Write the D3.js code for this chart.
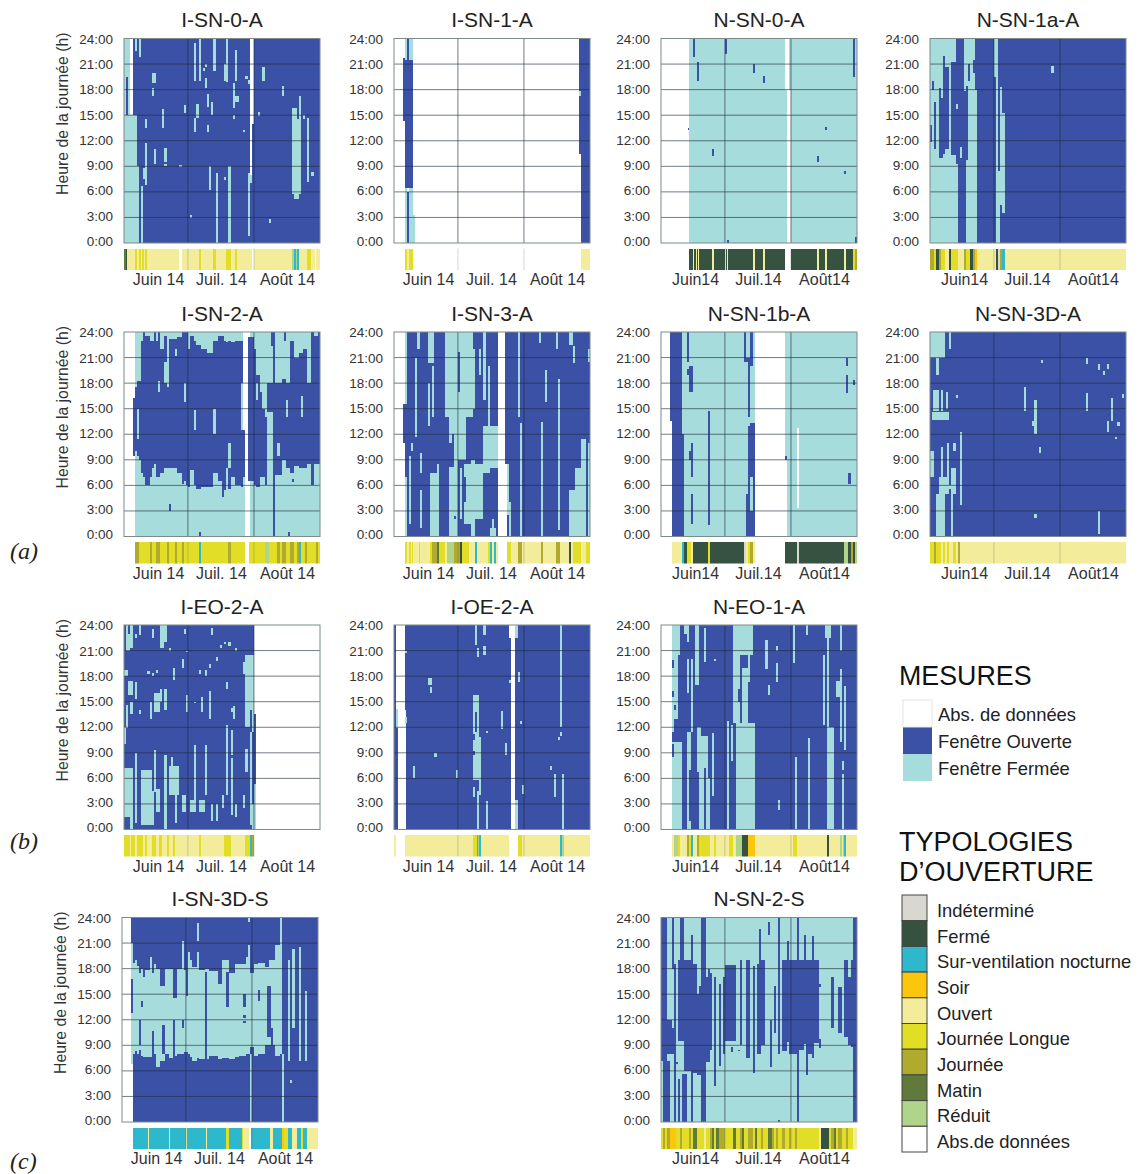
<!DOCTYPE html>
<html><head><meta charset="utf-8">
<script src="https://cdn.jsdelivr.net/npm/d3@7"></script>
<style>
html,body{margin:0;padding:0;background:#fff}
svg{display:block}
text{font-family:"Liberation Sans",Arial,sans-serif;fill:#222}
</style></head><body><div id="c"></div>
<script>
// measurement states
const A="abs",O="open",F="closed";
// typology states
const IND="ind",FER="fer",SUR="sur",SOI="soi",OUV="ouv",JLO="jlo",JOU="jou",MAT="mat",RED="red",ABS="abs";

const hourTicks=[0,3,6,9,12,15,18,21,24];
const hourLabels=["0:00","3:00","6:00","9:00","12:00","15:00","18:00","21:00","24:00"];
const monthDays=[16,45.5,76.5];
const monthLabelsI=["Juin 14","Juil. 14","Août 14"];
const monthLabelsN=["Juin14","Juil.14","Août14"];
const monthBreaks=[30,61];

// [day0, day1, hour0, hour1, state]
const marks_ISN0A=[[0,6,0,15,F],[6,7,0,9,F],[0,1,14,24,F],[1,2,19.5,24,F],[2,3,15,24,F],[3,4,15,24,A],[5,6,22.5,24,F],[7,8,21.8,24,F],[8,9,0,6.7,F],[10,11,6.8,11.7,F],[9,10,7.5,8.8,F],[10,11,13.5,14.5,F],[13,15,18.8,20,F],[13,14,17.3,18.2,F],[14,15,9.3,11,F],[18,19,13.5,15.7,F],[19,20,9.5,11.2,F],[19,20,9,9.3,F],[26,27,8.9,9.2,F],[28,29,15.2,16.2,F],[33,34,13,14.7,F],[33,34,19,23.5,F],[34,35,14.7,16.3,F],[35,36,19,24,F],[38,39,20.7,21,F],[37,38,20.2,20.5,F],[38,39,18.2,19.4,F],[39,40,16,17.5,F],[39,40,13,13.8,F],[41,42,15,16.5,F],[40,41,6.2,9,F],[42,43,20.2,24,F],[43,44,0,8.2,F],[47,48,7.4,7.8,F],[48,49,18.9,24,F],[49,50,0,9,F],[47,48,19,21,F],[51,52,15.8,18.8,F],[52,53,19,22.6,F],[52,54,16.5,17.2,F],[51,52,14.5,15,F],[56,57,13,13.3,F],[57,58,19.2,19.6,F],[58,59,18.7,19.1,F],[63,64,14.9,15.4,F],[65,66,19,20.7,F],[68,69,2.4,2.8,F],[74,75,17.3,18.4,F],[79,83,5.7,14.5,F],[80,82,5.2,5.7,F],[79,81,14.5,15.9,F],[82,83,14,17.3,F],[84,85,14.5,15,F],[86,87,7.2,14.7,F],[88,89,7.9,8.3,F],[31,32,2.9,3.3,F],[58,59,0.8,8.2,F],[59,60,7,24,A],[60,61,14,24,A],[59,60,7,8,F]];
const strip_ISN0A=[[0,92,OUV],[0,1,MAT],[1,1.5,FER],[5,6,JLO],[7,8,JLO],[8.6,9.2,JLO],[10,11,JLO],[26,27,ABS],[35,36,JLO],[42,43,JLO],[48,50,JLO],[52,53,JLO],[60,61,ABS],[79,80,RED],[80,82,SUR],[80.5,81,RED],[86,88,JLO],[89.5,90,ABS]];

const marks_ISN1A=[[4,5,14.3,21.7,O],[5,9,6.5,21.5,O],[5,6,21.5,24,F],[6,7,21.5,24,O],[7,9,21.5,24,F],[5,6,0,6.5,F],[6,7,0,6,O],[7,9,0,6.5,F],[9,10,0,3.3,F],[87,88,10.5,24,O],[88,92,0,24,O],[87,88,17.2,17.8,F]];
const strip_ISN1A=[[5,6,JLO],[6,7,OUV],[7,9,JLO],[88,92,OUV]];

const marks_NSN0A=[[0,13,0,24,A],[58,60,18,24,A],[59,61,0,18,A],[15,16,21.8,24,O],[17,18,19,21.2,O],[12.5,13,13.3,13.5,O],[24,25,10.2,11,O],[30,31,22.2,24,O],[31,32,0,0.3,O],[43,44,20,21,O],[48,49,18.8,19.6,O],[73,74,9.5,10.2,O],[77,78,13.3,13.6,O],[86,87,8.1,8.4,O],[90,91,19.5,24,O],[91,92,0,0.7,O]];
const strip_NSN0A=[[13,58,FER],[61,92,FER],[15,15.5,OUV],[16.5,17,OUV],[17.5,18,OUV],[24,25,OUV],[30,30.6,OUV],[31,31.6,OUV],[43,44,OUV],[48,49,OUV],[73,74,OUV],[77,78,OUV],[86,87,OUV],[90,91,JLO],[91,92,JOU]];

const marks_NSN1aA=[[0,13,0,9.3,F],[0,1,13.8,24,F],[0,1,9.3,11.8,F],[1,2,9.3,18,F],[1,2,19,24,F],[2,3,9.3,11,F],[2,3,16.5,24,F],[3,4,9.3,24,F],[4,6,9.3,10,F],[4,6,18.2,24,F],[5,6,17,18.2,F],[6,7,9.3,10.5,F],[6,7,22,24,F],[7,9,9.3,11,F],[7,9,20.7,24,F],[9,10,9.3,24,F],[10,12,9.3,10.3,F],[10,12,21.3,24,F],[11,12,9.3,9.5,F],[12,13,15.7,16.3,F],[14,15,10,11.3,F],[17,22,0,9.7,F],[16,17,17.8,24,F],[17,18,18.4,24,F],[18,19,9.7,19,F],[18,19,21,24,F],[19,21,9.7,24,F],[20,21,20,21.5,O],[21,22,9.7,18,F],[30,32,19.5,24,F],[31,32,8.5,19.5,F],[31,33,0,8.5,F],[33,34,4.5,18.3,F],[34,35,3.5,15.2,F],[57,58,19.9,20.8,F]];
const strip_NSN1aA=[[0,92,OUV],[0,2,JOU],[2,3,JLO],[3,4,FER],[4,5,JOU],[5,7,JLO],[9,10,FER],[10,13,JLO],[16,17,JOU],[17,19,JLO],[19,20,FER],[20,21,JOU],[21,22,SOI],[31,32,FER],[32,33,IND],[33,34,JOU],[34,35,SUR],[35,37,OUV]];

const marks_ISN2A=[[0,4,0,24,A],[4,5,0,9.5,A],[4,5,16.3,24,A],[4,5,9.5,16.3,O],[5,6,10,17.5,O],[6,7,15,18.2,O],[6,7,9.5,11.5,O],[7,8,9,18.2,O],[8,9,7.5,23,O],[9,10,7,24,O],[10,12,6,23.5,O],[12,13,7,23,O],[13,14,8,23,O],[14,15,8.5,24,O],[15,16,7,23,O],[16,17,7,17,O],[16,17,18.2,24,O],[17,19,7.5,22,O],[19,20,8,18,O],[19,20,20.5,23.5,O],[20,21,8,17.5,O],[21,25,8,23.2,O],[24,25,21.2,22,F],[25,27,7.5,23.4,O],[27,28,6.2,24,O],[28,29,6.5,15.8,O],[28,29,18,24,O],[29,30,6,24,O],[30,31,5.8,22,O],[31,33,7.8,23.5,O],[33,34,6,23,O],[33,34,12.5,14.8,F],[34,36,5.6,22.5,O],[36,39,5.8,22,O],[39,42,5.8,21.5,O],[42,44,7.5,23,O],[42,43,12,15,F],[44,46,6.5,23.5,O],[46,47,4.6,23.5,O],[47,48,5.5,23,O],[48,49,8,22.8,O],[49,50,11,23,O],[49,50,5.6,8,O],[50,52,7,22.8,O],[52,53,6,23,O],[53,55,6,23,O],[55,56,5.8,12.5,O],[55,56,18,23,O],[56,57,7,12.5,O],[56,57,12.5,24,A],[57,59,0,24,A],[58,61,6.5,23.4,O],[61,62,6,22,O],[62,64,5.8,19,O],[62,63,16,18,F],[65,66,7,15,O],[64,65,7,17,O],[66,67,6,14,O],[67,70,14.6,18,O],[69,70,22.3,24,O],[70,71,0,24,O],[71,74,7.2,18,O],[74,76,9,18.5,O],[72,73,9.5,11,F],[75,76,23,24,O],[76,78,8,18,O],[76,77,14,16,F],[78,80,7.5,23,O],[80,82,8.3,21,O],[82,84,8,21.5,O],[83,84,14,16.5,F],[84,86,8,22,O],[86,88,8.5,18,O],[88,89,6,24,O],[89,91,8.5,23.5,O],[91,92,8.5,24,O],[21,22,3,3.8,O],[35,36,0.1,0.5,O],[77,78,0,0.5,O],[79,80,6.4,6.8,O]];
const strip_ISN2A=[[5,92,JLO],[0,5,ABS],[5,7,JOU],[12,13,JOU],[15,17,JOU],[20,21,JOU],[24,25,JOU],[27,28,JOU],[35,36,SUR],[49,50,JOU],[57,58.5,ABS],[66,68,RED],[72,73,JOU],[74,76,JOU],[78,80,JOU],[81,82,JOU],[82,83,SUR],[85,86,JOU],[90,91,JOU]];

const marks_ISN3A=[[0,5,0,24,A],[4,5,11,15.5,O],[5,6,15.5,24,F],[5,6,0,7,F],[7,8,1.5,9.5,F],[8,9,10,11,F],[10,11,11.7,21,F],[11,12,22,24,F],[12,13,1,5.5,F],[12,13,7.5,9.8,F],[16,17,13,18,F],[17,21,0,7.5,F],[16,19,20.4,24,F],[18,19,14,20,F],[20,21,7,8.5,F],[24,26,14,24,F],[26,28,11,24,F],[28,29,8,24,F],[26,29,0,8.2,F],[29,30,0,24,F],[30,31,21.6,24,F],[30,31,9,17,F],[31,34,9,24,F],[34,37,14,24,F],[37,38,15,22,F],[36,37,0,9,F],[31,32,2,8,F],[33,36,1.5,8.5,F],[37,38,0,9,F],[38,42,2,8.5,F],[42,45,7.5,13,F],[45,49,8,13,F],[44,45,13,20,F],[42,43,16,24,F],[40,41,19,22,F],[28,29,2,2.4,O],[27,28,10,12,O],[33,34,4,7,O],[30,31,0,1.5,O],[45,48,0,1,F],[46,47,1,2,F],[49,52,0,24,A],[52,53,0,8.5,A],[53,54,2.5,8.5,F],[54,55,0,4,F],[58,59,14,24,F],[59,60,0,13.3,F],[68,69,22.7,24,F],[69,70,0,13.4,F],[71,72,15.8,19.5,F],[76,77,22,24,F],[77,78,0.8,18.5,F],[82,84,22.5,24,F],[82,88,0,5.5,F],[85,88,5.5,8,F],[84,85,20.4,22.3,F],[88,90,0,11.5,F],[91,92,0,11,F],[91,92,20.5,22,F]];
const strip_ISN3A=[[5,49,OUV],[53,92,OUV],[5,6,JLO],[7,8,JLO],[8.5,9,JLO],[11.5,12,JLO],[17,18,JLO],[18,20,JOU],[20,21,MAT],[21,24,JLO],[25,28,RED],[28,31,JOU],[31,32,FER],[32,35,JLO],[38,39,SUR],[44,45,JLO],[45,46,SUR],[47,48,SUR],[53,55,JLO],[58,60,JOU],[69,70,JOU],[76,78,JOU],[82,83,FER],[84,88,JLO],[90,92,JLO]];

const marks_NSN1bA=[[0,5,0,24,A],[4,5,13.5,24,O],[5,10,0,24,O],[10,11,0,12,O],[12,13,20.5,24,O],[12,14,19,19.6,O],[13,15,17,20,O],[14,15,13,17,F],[14,15,7,11,O],[13,14,9,10,O],[14,15,1.5,5,O],[22,23,1.3,14.7,O],[39,40,20.5,24,O],[40,41,20.5,21,O],[40,41,0,5,O],[41,42,0,21,O],[42,43,0,13.3,O],[43,44,0,13.3,O],[42,43,20,24,O],[41,42,13,14,F],[42,43,3,7,F],[44,58,0,24,A],[58,59,0,9,A],[58,59,9,9.5,O],[64,65,3.3,12.7,A],[87,88,20,21,O],[87,88,16.8,19,O],[90,91,17.8,18.4,O],[88,89,6.2,7.5,O]];
const strip_NSN1bA=[[5,44,OUV],[58,92,FER],[10,11,SUR],[11,12,FER],[12,14,JLO],[15,40,FER],[22,23,JLO],[39,40,IND],[40,42,OUV],[41,42,JLO],[42,43,JOU],[64,65,IND],[86,88,RED],[88,89,FER],[89,90,JOU],[90,91,FER],[91,92,RED]];

const marks_NSN3DA=[[0,7,21,24,F],[9,10,22,24,F],[3,4,19,21,F],[1.5,4,14.7,17.2,F],[5,6,14.7,17.2,F],[7.5,8.5,15,17,F],[1,9,13.7,14.6,F],[0,2,7,10,F],[5,6,7,10.5,F],[8,9,7,11,F],[11,12,10,11,F],[14,15,3.7,12.3,F],[10,12,5,8,F],[4,9,5,7,F],[3,7,0,5,F],[10,11,0,5,F],[9,12,5.6,6,F],[12,13,16.2,16.6,F],[44,45,14.7,17.5,F],[49,50,12,16,F],[48,49,13,13.6,F],[51,52,9.8,10.5,F],[52,53,20.4,20.7,F],[49,50,2.2,2.6,F],[73,74,20.3,21,F],[73,74,14.7,16.8,F],[79,80,0.3,3,F],[79,80,19.5,20.2,F],[81,82,19,19.4,F],[83,84,19.7,20.3,F],[83,84,12.3,13.5,F],[85,86,13.6,16.2,F],[87,88,11.4,11.7,F],[88,89,13,13.4,F],[90,91,16.3,16.7,F]];
const strip_NSN3DA=[[0,92,OUV],[0,2,JLO],[2,3,JOU],[3,5,JLO],[5,6,OUV],[6,7,JLO],[8,9,JLO],[11,12,JLO],[13,14,JOU]];

const marks_IEO2A=[[61,92,0,24,A],[1,2,21,24,F],[3,4,21.3,24,F],[2,3,21,23,F],[7,8,22.8,24,F],[13,14,22.5,23.5,F],[17,19,21.3,24,F],[19,20,22,24,F],[5,6,22.5,23,F],[0,2,18,18.7,F],[2,4,15.8,17.4,F],[1,2,11.9,14.6,F],[0,1,10,12,F],[3,4,13.5,15,F],[5,6,15.3,17.3,F],[7,8,13.5,14,F],[12,13,13,15,F],[14,17,13.8,16,F],[17,18,15,16.5,F],[19,20,14,16.5,F],[23,24,17.5,19,F],[29,30,13.8,15.8,F],[33,34,14.8,15,F],[36,37,13.8,15.5,F],[40,41,13,16.3,F],[41,42,22.8,23.6,F],[48,49,16.5,17.3,F],[50,51,13.8,14.3,F],[51,52,13,14.5,F],[56,57,18.3,19.7,F],[57,59,12,20.5,F],[58,61,14,18,F],[59,61,18,20.5,F],[11,12,18.2,18.6,F],[13,14,18,18.4,F],[15,16,18.4,18.7,F],[21,22,21,21.3,F],[27,28,19,20,F],[29,30,20.8,21,F],[35,36,18.3,18.7,F],[38,39,18,18.7,F],[40,41,19,19.4,F],[43,44,19.8,20.3,F],[45,46,21.3,21.7,F],[47,48,21.8,22,F],[52,53,21,21.3,F],[49,50,21.5,22,F],[28,29,23,23.5,F],[0,3,1.5,7.2,F],[3,4,0,7.2,F],[5,6,0.8,9,F],[8,13,0.5,7,F],[12,14,0.5,4.5,F],[14,15,4.4,9.3,F],[15,17,2,4.8,F],[19,20,0,8.8,F],[21,26,4,7.5,F],[22,23,7.5,8.5,F],[24,25,0.8,4,F],[27,29,2,4,F],[31,33,2,3.5,F],[33,34,2,9.9,F],[35,38,2,3.5,F],[38,39,4,9.9,F],[41,42,1,3,F],[43,44,1,3,F],[48,49,4,12.3,F],[50,51,8.8,11.7,F],[50,51,1.7,8.4,F],[46,47,2.5,4,F],[52,53,1.5,3,F],[56,57,2.5,4,F],[57,58,6.8,9.5,F],[59,60,0.5,11.5,F],[60,61,11.5,20,F],[61,62,0.1,5.3,F],[60,61,0,3,F],[61,62,5.3,13.5,O]];
const strip_IEO2A=[[0,61,OUV],[61,92,ABS],[0,3,JLO],[3.5,5,JLO],[6,9,JLO],[10,11,JLO],[13,15,JLO],[16.5,18,JLO],[20,21,JLO],[23,24,JLO],[35,36,JLO],[47,50,JLO],[57,59,JLO],[59,60,SUR],[60,61,JOU]];

const marks_IOE2A=[[1,5,14,24,A],[2,5.5,0,14,A],[1,2,11.9,14.2,F],[5,6,12.5,13.2,F],[5,6,20.7,21,F],[54,57,22.5,24,A],[55,57,3.5,22.5,A],[55,57,0,3.5,A],[57,58,0,3.5,F],[57,58,22.5,24,F],[54,55,17.2,17.5,F],[58,59,17.3,18.5,F],[60,61,4.2,5.2,F],[59,60,12.4,12.7,F],[38,39,21.7,24,F],[42,43,22.8,24,F],[42,43,20.5,21.5,F],[39,40,20.3,21.3,F],[16,18,17,17.8,F],[17,18,16,16.7,F],[19,20,8.5,9,F],[9,10,6,7.5,F],[29,30,6,7,F],[37,40,5.8,15.8,F],[38,39,11.5,13.8,O],[37,38,10.5,11.2,O],[37,38,8.8,9.2,O],[40,41,4,10.9,F],[37,38,3.8,5,F],[39,40,0,4.5,F],[43,44,0,3.4,F],[43,44,11.3,11.6,F],[50,51,11.8,13.9,F],[52,53,8.7,10.2,F],[73,74,7,7.5,F],[75,76,3.8,6.5,F],[79,80,0,6.5,F],[78,79,12,24,F],[78,79,11,11.4,F],[77,78,10.5,10.9,F]];
const strip_IOE2A=[[0,1,OUV],[5,54,OUV],[58,60,JLO],[60,92,OUV],[37,39,JLO],[39,41,SUR],[39.5,40,RED],[78,79,SUR],[78.7,80,RED]];

const marks_NEO1A=[[0,5,0,24,A],[5,10,0,10.3,F],[5,9,20.5,24,F],[5,8,11.5,20.5,F],[5,6,19,19.9,O],[5,6,15.5,16.3,O],[6,7,14,14.6,O],[5,6,8.5,10,O],[6,8,10.5,13,O],[12,14,0,11.5,F],[13,14,1,7,O],[11,12,23,24,F],[12,13,22,24,F],[12,13,16,20,F],[14,15,11.5,20,F],[16,18,17,24,F],[17,19,6.8,12,F],[18,22,0,11,F],[20,21,0,7.2,O],[22,23,0,6,F],[24,25,3.9,11.3,F],[20,21,19.6,23.6,F],[25,26,19.8,20,F],[31,32,0,12.7,F],[33,34,8,12.3,F],[34,43,20.5,24,F],[34,37,12.5,20.5,F],[37,38,13.3,20,O],[36,37,15,16.5,O],[38,41,12.5,19,F],[41,42,17.3,20.5,F],[35,44,0,12.5,F],[49,50,18.8,22.2,F],[54,55,21,21.5,F],[54,55,17.3,19.5,F],[50,51,15.8,17,F],[55,56,2.3,3.5,F],[62,63,19.5,24,F],[63,64,0,8.5,F],[68,69,22.8,24,F],[69,70,0,10.7,F],[76,77,12.3,20.5,F],[77,80,22.5,24,F],[78,79,12,22.5,F],[78,81,0,12,F],[82,84,15.6,17.4,F],[84,85,10.3,18.8,F],[85,86,7,8,F],[85,86,0,6.5,F],[86,87,9.3,16.8,F],[84,85,21,24,F]];
const strip_NEO1A=[[5,92,OUV],[6,8,RED],[8,9,JLO],[12,13,JOU],[13,14,JLO],[14,15,SUR],[17,18,JOU],[18,23,JLO],[25,26,JLO],[32,34,JLO],[35,38,RED],[38,41,FER],[41,44,SOI],[62,63,JLO],[63,64,JLO],[78,79,FER],[84,85,RED],[86,87,SUR],[85.5,86,RED]];

const marks_ISN3DS=[[0,4,0,24,A],[4,5,0,6.8,A],[4,5,6.8,21,F],[4,5,12.8,16.8,O],[5,6,8,18.7,F],[6,7,8.3,19,F],[7,8,8,18.3,F],[8,9,8.5,17.5,F],[9,10,7.7,18,F],[10,11,7.6,17,F],[11,13,7.6,17.8,F],[13,14,7.6,19.4,F],[14,15,8,17.5,F],[15,16,8,18.5,F],[16,18,6.4,18,F],[18,20,7.2,16,F],[20,22,8,18,F],[22,24,7.5,18,F],[24,26,7.8,14.5,F],[26,28,8,18,F],[28,29,8,21.2,F],[29,31,8.2,17.8,F],[31,32,8,20,F],[32,33,7.6,19,F],[33,35,7.2,18.2,F],[35,36,7.5,18.6,F],[36,39,7.4,17.8,F],[39,41,7.4,18,F],[41,45,7.8,17.7,F],[45,47,7.4,16.2,F],[47,50,7.5,19,F],[50,53,7.4,17.5,F],[53,55,7.6,18.6,F],[55,58,7.8,18.6,F],[58,59,8,19.4,F],[59,60,8,20.8,F],[60,62,8.8,17.5,F],[62,64,7.8,18.5,F],[64,67,8,18.7,F],[67,69,9,18.2,F],[69,72,9,19,F],[72,74,7.8,20.8,F],[8,9,9,12,O],[9,10,13.5,14.2,O],[14,15,8,10.7,O],[19,20,8,11.4,O],[24,25,7.8,12,O],[28,29,11,12,O],[30,31,14.8,18,O],[39,40,7.4,17.6,O],[49,50,13.5,17.6,O],[57,58,13.5,15,O],[57,58,12.2,12.5,O],[57,58,11.6,11.9,O],[64,65,14.2,15.5,O],[68,70,10,16,O],[70,71,9,11,O],[35,36,21.2,23.3,F],[35,36,18.6,20,F],[59,60,23.5,24,F],[60,61,0,8,F],[74,75,8,24,F],[75,76,0,8,F],[78,79,7.2,19,F],[80,81,11,20.3,F],[83,84,7.2,20.5,F],[86,87,7.2,15.4,F],[79,80,4.6,4.9,F]];
const strip_ISN3DS=[[5,59.5,SUR],[60.5,75,SUR],[75,78,JLO],[78,92,SUR],[12,12.5,OUV],[22,22.5,OUV],[30,30.5,OUV],[39.5,40,OUV],[49,50,JLO],[56.5,58.5,JLO],[57,58,OUV],[58,59.5,OUV],[69.5,71,OUV],[75,76,SOI],[80,82,OUV],[84,85,JLO],[87,92,OUV]];

const marks_NSN2S=[[0,3,7.2,24,O],[1,4,0,7.2,O],[3,5,8,12,O],[5,6,18,24,O],[5,6,8,11,O],[6,7,0,18.5,O],[7,8,6.8,7,O],[8,9,0,5,O],[9,11,15,24,O],[8,11,9.5,19,O],[10,12,0,5.6,O],[11,14,6,19,O],[14,15,0,22,O],[15,17,5.7,18.5,O],[17,18,5.5,15,O],[18,19,5.5,16,O],[19,21,0,24,O],[21,23,7,17,O],[22,23,17,18,O],[23,24,8.5,17.5,O],[25,26,4.2,17,O],[27,28,6.6,16.2,O],[29,30,8,17,O],[30,35,9.5,18.4,O],[34,35,10,16,O],[33,34,8.2,8.8,O],[36,37,8.3,8.5,O],[37,38,9,19,O],[40,42,7.5,19,O],[43,44,5.7,18.3,O],[45,47,8,18.5,O],[46,47,18,22.7,O],[47,49,9,19,O],[50,51,22,23.5,O],[51,52,6.4,12,O],[53,54,10.5,16,O],[55,56,8,24,O],[57,59,8.3,19,O],[59,60,9.4,21.3,O],[60,64,8,19,O],[64,65,0,24,O],[65,67,8.5,19,O],[67,68,9.2,22,O],[68,69,5.5,19,O],[69,71,8,19,O],[71,72,7.5,21.8,O],[72,74,9.3,19,O],[74,75,8.7,9.7,O],[74,75,15.8,16.2,O],[80,81,11,17,O],[83,85,10.5,15.8,O],[86,88,10,19,O],[88,89,9,17,O],[89,90,8.8,19,O],[90,92,0,24,O],[55,56,0,0.2,O]];
const strip_NSN2S=[[0,92,JLO],[1,2,JOU],[3,4,JOU],[4,7,SOI],[9,10,JOU],[13,14,JOU],[15,17,MAT],[20,21,OUV],[23,24,JOU],[24,25,MAT],[26,27,MAT],[27,30,JOU],[34,35,MAT],[37,38,JOU],[38,39,MAT],[41,43,JOU],[44,45,MAT],[47,48,JOU],[50,52,MAT],[52,53,JOU],[54,55,JOU],[57,58,JOU],[60,61,JOU],[63,64,JOU],[74,75,OUV],[75,79,FER],[80,81,JOU],[81,82,MAT],[83,85,JOU],[87,88,JOU],[90,92,OUV]];

// layout tables
const colX=[124,394,661,930], rowY=[38.5,332,625,917.5];
const panelW=196, panelH=204.5;
const panels=[
 {name:"I-SN-0-A",c:0,r:0,base:O,m:marks_ISN0A,s:strip_ISN0A},
 {name:"I-SN-1-A",c:1,r:0,base:A,m:marks_ISN1A,s:strip_ISN1A},
 {name:"N-SN-0-A",c:2,r:0,base:F,m:marks_NSN0A,s:strip_NSN0A},
 {name:"N-SN-1a-A",c:3,r:0,base:O,m:marks_NSN1aA,s:strip_NSN1aA},
 {name:"I-SN-2-A",c:0,r:1,base:F,m:marks_ISN2A,s:strip_ISN2A},
 {name:"I-SN-3-A",c:1,r:1,base:O,m:marks_ISN3A,s:strip_ISN3A},
 {name:"N-SN-1b-A",c:2,r:1,base:F,m:marks_NSN1bA,s:strip_NSN1bA},
 {name:"N-SN-3D-A",c:3,r:1,base:O,m:marks_NSN3DA,s:strip_NSN3DA},
 {name:"I-EO-2-A",c:0,r:2,base:O,m:marks_IEO2A,s:strip_IEO2A},
 {name:"I-OE-2-A",c:1,r:2,base:O,m:marks_IOE2A,s:strip_IOE2A},
 {name:"N-EO-1-A",c:2,r:2,base:O,m:marks_NEO1A,s:strip_NEO1A},
 {name:"I-SN-3D-S",c:0,r:3,base:O,m:marks_ISN3DS,s:strip_ISN3DS,dx:-2},
 {name:"N-SN-2-S",c:2,r:3,base:F,m:marks_NSN2S,s:strip_NSN2S}
];

const measureNames=["Abs. de données","Fenêtre Ouverte","Fenêtre Fermée"];
const measureKeys=[A,O,F];
const measureColors=["#ffffff","#3a51a6","#a6dcdb"];
const typoNames=["Indéterminé","Fermé","Sur-ventilation nocturne","Soir","Ouvert","Journée Longue","Journée","Matin","Réduit","Abs.de données"];
const typoKeys=[IND,FER,SUR,SOI,OUV,JLO,JOU,MAT,RED,ABS];
const typoColors=["#d8d8ce","#36523f","#2fb8cc","#fcc60d","#f2ec9b","#e2dd25","#b0ab2e","#5f7a3a","#b0d58a","#ffffff"];
const groupLabels=["(a)","(b)","(c)"];

const measureColor=d3.scaleOrdinal(measureKeys,measureColors);
const typoColor=d3.scaleOrdinal(typoKeys,typoColors);

const svg=d3.select("#c").append("svg").attr("width",1138).attr("height",1174);
const defs=svg.append("defs");
defs.append("filter").attr("id","soft").attr("x","-5%").attr("y","-5%").attr("width","110%").attr("height","110%")
  .append("feGaussianBlur").attr("stdDeviation",0.45);

panels.forEach((p,i)=>{
  const L=colX[p.c]+(p.dx||0), T=rowY[p.r];
  const g=svg.append("g").attr("transform",`translate(${L},${T})`);
  const x=d3.scaleLinear([0,92],[0,panelW]);
  const y=d3.scaleLinear([0,24],[panelH,0]);
  const yLab=d3.scaleLinear([0,24],[panelH-2,0.5]);
  const stripTop=panelH+5.5, stripH=21.5;
  defs.append("clipPath").attr("id","cp"+i).append("rect").attr("width",panelW).attr("height",panelH);
  defs.append("clipPath").attr("id","cs"+i).append("rect").attr("y",stripTop).attr("width",panelW).attr("height",stripH);

  g.append("text").attr("x",panelW/2).attr("y",-11.5).attr("text-anchor","middle")
    .style("font-size","21px").text(p.name);

  const hm=g.append("g").attr("clip-path",`url(#cp${i})`).append("g").attr("filter","url(#soft)");
  hm.append("rect").attr("x",x(0)).attr("y",y(24)).attr("width",x(92)-x(0)).attr("height",y(0)-y(24))
    .attr("fill",measureColor(p.base));
  hm.selectAll("rect.m").data(p.m).join("rect").attr("class","m")
    .attr("shape-rendering","crispEdges")
    .attr("x",d=>x(d[0])).attr("width",d=>x(d[1])-x(d[0]))
    .attr("y",d=>y(Math.max(d[2],d[3]))).attr("height",d=>Math.abs(y(d[2])-y(d[3])))
    .attr("fill",d=>measureColor(d[4]));

  // grid
  const grid=g.append("g").attr("stroke","#1e2b3c").attr("stroke-opacity",0.62).attr("stroke-width",1);
  grid.selectAll("line.h").data(hourTicks.slice(1,-1)).join("line").attr("class","h")
    .attr("x1",0).attr("x2",panelW).attr("y1",d=>y(d)).attr("y2",d=>y(d));
  grid.selectAll("line.v").data(monthBreaks).join("line").attr("class","v")
    .attr("y1",0).attr("y2",panelH).attr("x1",d=>x(d)).attr("x2",d=>x(d));
  g.append("rect").attr("width",panelW).attr("height",panelH).attr("fill","none")
    .attr("stroke","#7d8a8a").attr("stroke-width",1);

  // y axis
  const ya=g.append("g").attr("transform","translate(-11,0)").call(
    d3.axisLeft(yLab).tickValues(hourTicks).tickSize(0).tickPadding(0).tickFormat((d,k)=>hourLabels[k]));
  ya.select(".domain").remove();
  ya.selectAll("text").style("font-size","13.5px").style("font-family",'"Liberation Sans"').style("fill","#333");

  // strip
  const st=g.append("g").attr("clip-path",`url(#cs${i})`).append("g").attr("filter","url(#soft)");
  st.selectAll("rect").data(p.s).join("rect").attr("shape-rendering","crispEdges")
    .attr("x",d=>x(d[0])).attr("width",d=>x(d[1])-x(d[0]))
    .attr("y",stripTop).attr("height",stripH).attr("fill",d=>typoColor(d[2]));
  g.selectAll("line.sv").data(monthBreaks).join("line").attr("class","sv")
    .attr("y1",stripTop).attr("y2",stripTop+stripH).attr("x1",d=>x(d)).attr("x2",d=>x(d))
    .attr("stroke","#555").attr("stroke-opacity",0.25);

  // month axis
  const labels=p.name[0]==="I"?monthLabelsI:monthLabelsN;
  const xa=g.append("g").attr("transform",`translate(0,${stripTop+stripH+1})`).call(
    d3.axisBottom(x).tickValues(monthDays).tickSize(0).tickPadding(3).tickFormat((d,k)=>labels[k]));
  xa.select(".domain").remove();
  xa.selectAll("text").style("font-size","16px").style("font-family",'"Liberation Sans"').style("fill","#333");

  if(p.c===0){
    g.append("text").attr("transform",`translate(-56,${panelH/2-27}) rotate(-90)`)
      .attr("text-anchor","middle").style("font-size","15.8px").style("fill","#333").text("Heure de la journée (h)");
  }
});

// group labels
const labelYs=[559,849,1169];
svg.selectAll("text.grp").data(groupLabels).join("text").attr("class","grp")
  .attr("x",10).attr("y",(d,i)=>labelYs[i]).style("font-family",'"Liberation Serif"')
  .style("font-style","italic").style("font-size","24px").text(d=>d);

// legends
const lg=svg.append("g");
lg.append("text").attr("x",899).attr("y",685).style("font-size","26.8px").style("fill","#111").text("MESURES");
const mY=d3.scaleBand(d3.range(measureNames.length),[700,781]);
lg.selectAll("rect.lm").data(measureNames).join("rect").attr("class","lm")
  .attr("x",903).attr("width",29).attr("y",(d,i)=>mY(i)).attr("height",mY.bandwidth())
  .attr("fill",(d,i)=>measureColor(measureKeys[i]));
lg.append("rect").attr("x",903).attr("y",700).attr("width",29).attr("height",27).attr("fill","none").attr("stroke","#e4e4e4");
lg.selectAll("text.lm").data(measureNames).join("text").attr("class","lm")
  .attr("x",938).attr("y",(d,i)=>mY(i)+mY.bandwidth()/2+7.5).style("font-size","18.4px").style("fill","#222").text(d=>d);

lg.append("text").attr("x",899).attr("y",851).style("font-size","27px").style("fill","#111").text("TYPOLOGIES");
lg.append("text").attr("x",899).attr("y",881).style("font-size","27px").style("fill","#111").text("D’OUVERTURE");
const tY=d3.scaleBand(d3.range(typoNames.length),[895,1152]);
lg.selectAll("rect.lt").data(typoNames).join("rect").attr("class","lt")
  .attr("x",902).attr("width",25).attr("y",(d,i)=>tY(i)).attr("height",tY.bandwidth())
  .attr("fill",(d,i)=>typoColor(typoKeys[i])).attr("stroke","#444").attr("stroke-width",1);
lg.selectAll("text.lt").data(typoNames).join("text").attr("class","lt")
  .attr("x",937).attr("y",(d,i)=>tY(i)+tY.bandwidth()/2+9).style("font-size","18.4px").style("fill","#222").text(d=>d);
</script></body></html>
